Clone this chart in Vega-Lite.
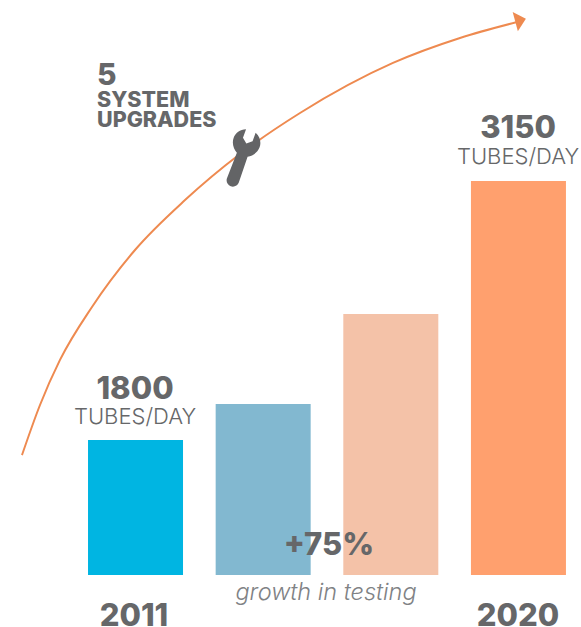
{
"$schema":"https://vega.github.io/schema/vega-lite/v6.json",
"width":581,"height":627,
"autosize":"none",
"padding":0,
"background":"white",
"config":{"view":{"stroke":null}},
"encoding":{
"x":{"field":"year","type":"quantitative","scale":{"domain":[2007.815,2021.47],"nice":false,"zero":false,"padding":0},"axis":null},
"y":{"field":"value","type":"quantitative","scale":{"domain":[824.8,4093],"nice":false,"zero":false,"padding":0},"axis":null}
},
"layer":[
{"data":{"values":[
{"year":2011,"value":1800,"base":1096,"colour":"#00B5E2"},
{"year":2014,"value":1987,"base":1096,"colour":"#82B8D0"},
{"year":2017,"value":2456,"base":1096,"colour":"#F4C2A8"},
{"year":2020,"value":3150,"base":1096,"colour":"#FFA06E"}]},
"mark":{"type":"bar","width":95},
"encoding":{"y2":{"field":"base"},"color":{"field":"colour","type":"nominal","scale":null}}},
{"data":{"values":[
{"year":2008.332,"value":1721},{"year":2008.755,"value":1982},{"year":2009.225,"value":2217},{"year":2009.977,"value":2493},{"year":2010.988,"value":2790},{"year":2012.163,"value":3050},{"year":2013.455,"value":3290},{"year":2014.866,"value":3504},{"year":2017.051,"value":3765},{"year":2018.626,"value":3895},{"year":2019.966,"value":3978}]},
"mark":{"type":"line","interpolate":"monotone","color":"#EE8A50","strokeWidth":2},
"encoding":{"order":{"field":"year"}}},
{"data":{"values":[{"year":2020.05,"value":3988}]},
"mark":{"type":"point","shape":"M-0.55,-1 L0.55,0 L-0.55,1 Z","size":400,"angle":-15,"filled":true,"color":"#EE8A50","opacity":1}},
{"data":{"values":[{"year":2013.479,"value":3269}]},
"mark":{"type":"point","shape":"M-0.21,0.79 L-0.19,-0.12 C-0.34,-0.2 -0.46,-0.36 -0.46,-0.55 C-0.46,-0.72 -0.36,-0.88 -0.17,-0.96 L-0.17,-0.66 L0,-0.52 L0.17,-0.66 L0.17,-0.96 C0.36,-0.88 0.46,-0.72 0.46,-0.55 C0.46,-0.36 0.34,-0.2 0.19,-0.12 L0.21,0.79 A0.21,0.21 0 0 1 -0.21,0.79 Z","size":3600,"angle":20,"filled":true,"color":"#636466","opacity":1}},
{"data":{"values":[
{"label":"1800","year":2010.988,"value":2013},
{"label":"3150","year":2019.989,"value":3372},
{"label":"+75%","year":2015.547,"value":1200},
{"label":"2011","year":2010.964,"value":830},
{"label":"2020","year":2019.989,"value":830}]},
"mark":{"type":"text","font":"Inter","fontWeight":800,"fontSize":31,"color":"#666769","align":"center","baseline":"alphabetic"},
"encoding":{"text":{"field":"label"}}},
{"data":{"values":[{"label":"5","year":2010.095,"value":3650}]},
"mark":{"type":"text","font":"Inter","fontWeight":800,"fontSize":30,"color":"#666769","align":"left","baseline":"alphabetic"},
"encoding":{"text":{"field":"label"}}},
{"data":{"values":[
{"label":"SYSTEM","year":2010.095,"value":3535},
{"label":"UPGRADES","year":2010.095,"value":3431}]},
"mark":{"type":"text","font":"Inter","fontWeight":800,"fontSize":21.5,"color":"#666769","align":"left","baseline":"alphabetic"},
"encoding":{"text":{"field":"label"}}},
{"data":{"values":[
{"label":"TUBES/DAY","year":2010.988,"value":1883},
{"label":"TUBES/DAY","year":2019.989,"value":3238}]},
"mark":{"type":"text","font":"Inter","fontWeight":300,"fontSize":22,"color":"#666769","align":"center","baseline":"alphabetic"},
"encoding":{"text":{"field":"label"}}},
{"data":{"values":[{"label":"growth in testing","year":2015.477,"value":966}]},
"mark":{"type":"text","font":"Inter","fontWeight":300,"fontStyle":"italic","fontSize":23.5,"color":"#808285","align":"center","baseline":"alphabetic"},
"encoding":{"text":{"field":"label"}}}
]
}
